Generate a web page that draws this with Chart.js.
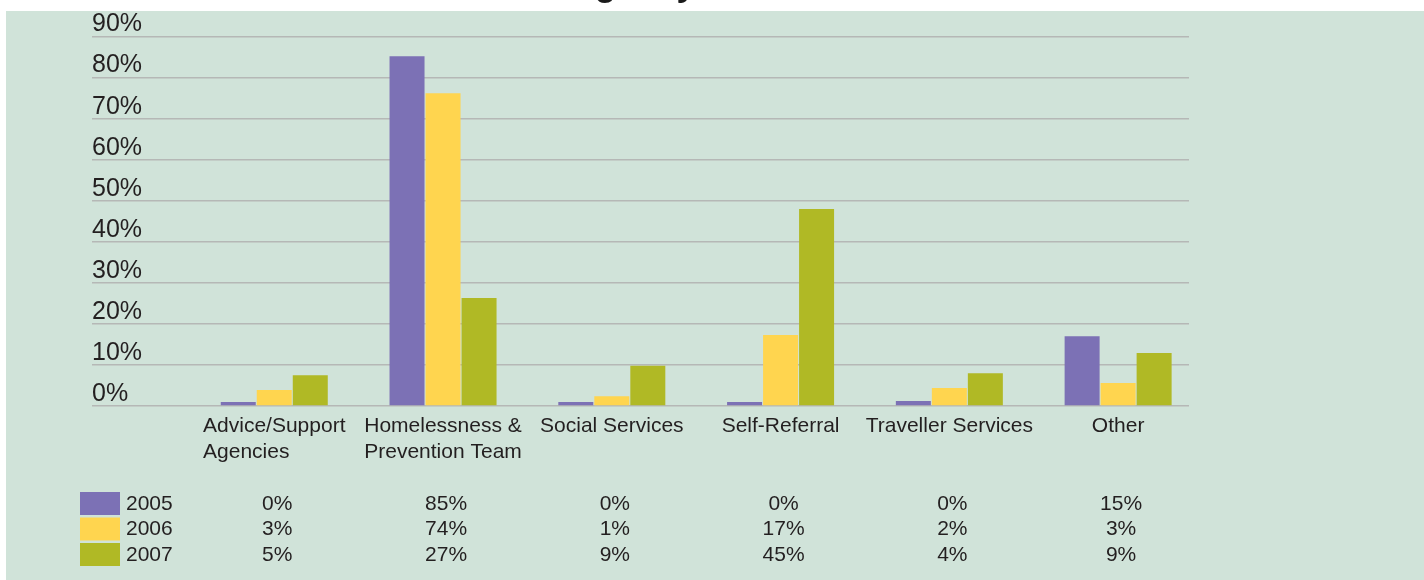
<!DOCTYPE html>
<html>
<head>
<meta charset="utf-8">
<script src="https://cdn.jsdelivr.net/npm/chart.js@4.4.1/dist/chart.umd.min.js"></script>
<style>
  html, body { margin: 0; padding: 0; background: #ffffff; }
  #wrap { width: 1424px; height: 580px; position: relative; }
  canvas { display: block; }
</style>
</head>
<body>
<div id="wrap"><canvas id="c" width="1424" height="580"></canvas></div>
<script>
// ---- data ----
const categories = [
  ["Advice/Support", "Agencies"],
  ["Homelessness &", "Prevention Team"],
  ["Social Services"],
  ["Self-Referral"],
  ["Traveller Services"],
  ["Other"]
];
const seriesNames = ["2005", "2006", "2007"];
// bar heights as drawn in the picture (%)
const bars2005 = [1.0, 85.2, 1.0, 1.0, 1.2, 17.0];
const bars2006 = [3.9, 76.2, 2.4, 17.3, 4.4, 5.6];
const bars2007 = [7.5, 26.3, 9.8, 48.0, 8.0, 12.9];
// values printed in the data table
const table2005 = ["0%", "85%", "0%", "0%", "0%", "15%"];
const table2006 = ["3%", "74%", "1%", "17%", "2%", "3%"];
const table2007 = ["5%", "27%", "9%", "45%", "4%", "9%"];
const yTickValues = [0, 10, 20, 30, 40, 50, 60, 70, 80, 90];
const titleText = "Referral Agency";

// ---- styles ----
const colors = ["#7c71b5", "#ffd54f", "#b0b925"];
const bgGreen = "#d0e3d9";
const textColor = "#231f20";
const gridColor = "#b5b8b6";
const FONT = "'Liberation Sans', Arial, Helvetica, sans-serif";

const seriesBars = [bars2005, bars2006, bars2007];
const seriesTable = [table2005, table2006, table2007];

const datasets = seriesNames.map((name, s) => ({
  label: name,
  data: seriesBars[s].map((v, i) => ({ x: i, y: v })),
  backgroundColor: colors[s],
  borderWidth: 0,
  barPercentage: 0.972,
  categoryPercentage: 0.64
}));

const decorPlugin = {
  id: 'decor',
  beforeDraw(chart) {
    const ctx = chart.ctx;
    ctx.save();
    ctx.fillStyle = '#ffffff';
    ctx.fillRect(0, 0, chart.width, chart.height);
    ctx.fillStyle = bgGreen;
    ctx.fillRect(6, 11, chart.width - 6, chart.height - 11);
    ctx.restore();
  },
  afterDraw(chart) {
    const ctx = chart.ctx;
    const xs = chart.scales.x;
    const ys = chart.scales.y;
    const base = ys.getPixelForValue(0);
    ctx.save();
    // cut-off title at the very top
    ctx.fillStyle = '#1a1a1a';
    ctx.font = "bold 35px " + FONT;
    ctx.textAlign = 'right';
    ctx.textBaseline = 'alphabetic';
    ctx.fillText(titleText, 696, -4);

    // category labels
    ctx.fillStyle = textColor;
    ctx.font = "21px " + FONT;
    ctx.textBaseline = 'middle';
    ctx.textAlign = 'left';
    categories.forEach((lines, i) => {
      const cx = xs.getPixelForValue(i);
      const w = Math.max(...lines.map(l => ctx.measureText(l).width));
      lines.forEach((l, j) => {
        ctx.fillText(l, cx - w / 2, base + 20 + j * 26);
      });
    });
    // data table with legend swatches
    seriesNames.forEach((name, s) => {
      const rowMid = base + 98 + s * 25.5;
      ctx.fillStyle = colors[s];
      ctx.fillRect(80, rowMid - 12, 40, 23);
      ctx.fillStyle = textColor;
      ctx.textAlign = 'left';
      ctx.fillText(name, 126, rowMid);
      ctx.textAlign = 'center';
      seriesTable[s].forEach((t, i) => {
        ctx.fillText(t, xs.getPixelForValue(i) + 3, rowMid);
      });
    });
    ctx.restore();
  }
};

new Chart(document.getElementById('c'), {
  type: 'bar',
  data: { datasets },
  plugins: [decorPlugin],
  options: {
    responsive: false,
    animation: false,
    devicePixelRatio: 1,
    layout: { padding: { left: 92, right: 235, top: 36.5, bottom: 174 } },
    plugins: {
      legend: { display: false },
      title: { display: false },
      tooltip: { enabled: false }
    },
    scales: {
      x: {
        type: 'linear',
        display: false,
        offset: false,
        grid: { offset: false },
        min: -1.08,
        max: 5.42,
        afterBuildTicks(scale) {
          scale.ticks = categories.map((c, i) => ({ value: i }));
        }
      },
      y: {
        position: 'left',
        min: 0,
        max: 90,
        z: 1,
        afterBuildTicks(scale) {
          scale.ticks = yTickValues.map(v => ({ value: v }));
        },
        border: { display: false },
        grid: { color: gridColor, lineWidth: 1.5, drawTicks: false },
        ticks: {
          mirror: true,
          padding: 0,
          labelOffset: -12,
          color: textColor,
          font: { family: FONT, size: 25 },
          callback: v => v + '%'
        }
      }
    }
  }
});
</script>
</body>
</html>
